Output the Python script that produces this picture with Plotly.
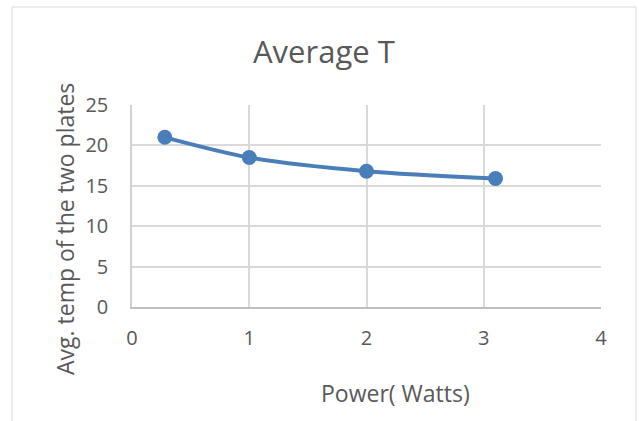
import plotly.graph_objects as go

power = [0.28, 1.0, 2.0, 3.1]
avg_temp = [21.0, 18.5, 16.8, 15.9]
x_ticks = [0, 1, 2, 3, 4]
y_ticks = [0, 5, 10, 15, 20, 25]

TXT = "#595959"
FONT = "Open Sans"

fig = go.Figure()
fig.add_trace(go.Scatter(
    x=power, y=avg_temp, mode="lines+markers",
    line=dict(color="#4a7ebb", width=4, shape="spline", smoothing=0.8),
    marker=dict(color="#4a7ebb", size=15),
    showlegend=False,
))

L, R, T, B = 132, 38, 105, 114
W, H = 639, 421
pw, ph = W - L - R, H - T - B

def px(x):
    return (x - L) / pw

def py(y):
    return (H - B - y) / ph

fig.update_layout(
    width=W, height=H,
    margin=dict(l=L, r=R, t=T, b=B),
    paper_bgcolor="white", plot_bgcolor="white",
    font=dict(family=FONT, color=TXT),
    xaxis=dict(range=[0, 4], tickvals=x_ticks, showgrid=True, gridcolor="#d9d9d9",
               gridwidth=1.5, zeroline=False, showline=True, linecolor="#bfbfbf",
               linewidth=1.5, mirror=False, ticks="", ticklabelstandoff=12,
               tickfont=dict(size=20, color=TXT, family=FONT)),
    yaxis=dict(range=[0, 25], tickvals=y_ticks, showgrid=True, gridcolor="#d9d9d9",
               gridwidth=1.5, zeroline=False, showline=True, linecolor="#d0d0d0",
               linewidth=1.5, ticks="", ticklabelstandoff=18,
               tickfont=dict(size=20, color=TXT, family=FONT)),
    shapes=[dict(type="rect", xref="paper", yref="paper",
                 x0=px(12), x1=px(636), y0=py(440), y1=py(7),
                 line=dict(color="#d9d9d9", width=1), fillcolor="rgba(0,0,0,0)",
                 layer="below")],
    annotations=[
        dict(text="Average T", xref="paper", yref="paper", x=px(324), y=py(51),
             showarrow=False, font=dict(size=31, color=TXT, family=FONT),
             xanchor="center", yanchor="middle"),
        dict(text="Avg. temp of the two plates", xref="paper", yref="paper",
             x=px(65), y=py(229), textangle=-90, showarrow=False,
             font=dict(size=23, color=TXT, family=FONT),
             xanchor="center", yanchor="middle"),
        dict(text="Power( Watts)", xref="paper", yref="paper", x=px(395), y=py(393),
             showarrow=False, font=dict(size=23, color=TXT, family=FONT),
             xanchor="center", yanchor="middle"),
    ],
)

fig.write_html("out.html", config={"displayModeBar": False},
               post_script="document.body.style.margin='0';")
